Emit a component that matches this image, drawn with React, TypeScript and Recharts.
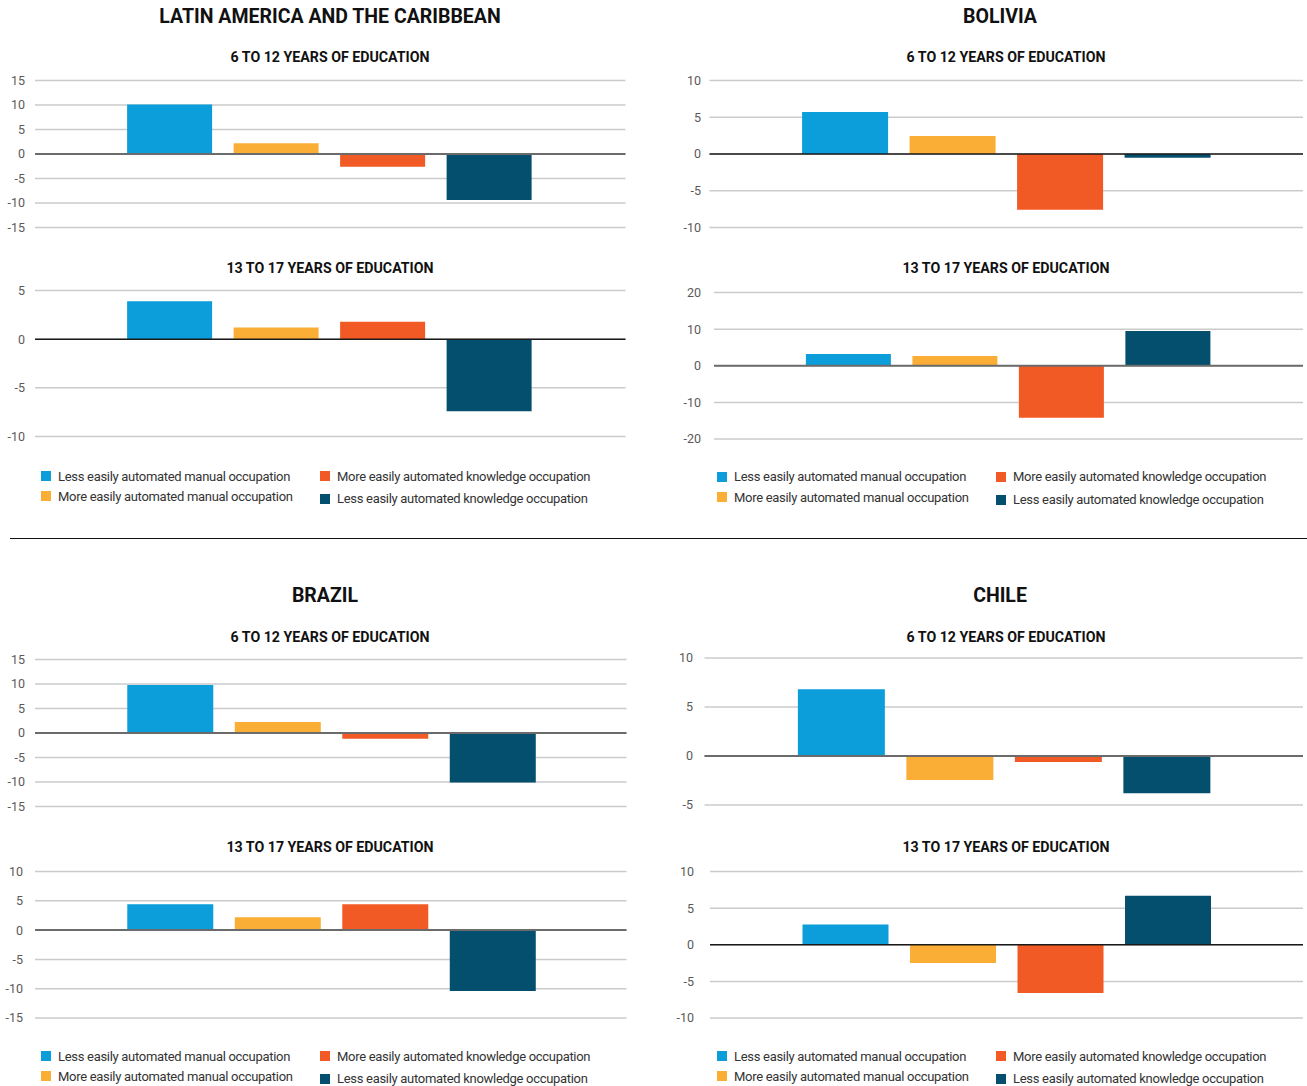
import React from "react";
import {
  BarChart,
  Bar,
  XAxis,
  YAxis,
  CartesianGrid,
  ReferenceLine,
} from "recharts";

// Occupation groups shown in every panel (bar order = legend order)
const SERIES_NAMES = [
  "Less easily automated manual occupation",
  "More easily automated manual occupation",
  "More easily automated knowledge occupation",
  "Less easily automated knowledge occupation",
];
const SERIES_COLORS = ["#0b9edb", "#faae35", "#f15a24", "#044f6d"];

// Change by occupation group, per region and education level
const LAC_6_12 = [10.1, 2.2, -2.6, -9.4];
const LAC_13_17 = [3.9, 1.2, 1.8, -7.4];
const BOLIVIA_6_12 = [5.7, 2.45, -7.6, -0.5];
const BOLIVIA_13_17 = [3.2, 2.65, -14.2, 9.5];
const BRAZIL_6_12 = [9.8, 2.25, -1.15, -10.1];
const BRAZIL_13_17 = [4.4, 2.2, 4.4, -10.4];
const CHILE_6_12 = [6.8, -2.45, -0.6, -3.8];
const CHILE_13_17 = [2.75, -2.5, -6.6, 6.7];

// Y axis ticks
const TICKS_15 = [-15, -10, -5, 0, 5, 10, 15];
const TICKS_10_5 = [-10, -5, 0, 5];
const TICKS_10 = [-10, -5, 0, 5, 10];
const TICKS_20 = [-20, -10, 0, 10, 20];
const TICKS_15_10 = [-15, -10, -5, 0, 5, 10];
const TICKS_5_10 = [-5, 0, 5, 10];

const REGION_TITLES = ["LATIN AMERICA AND THE CARIBBEAN", "BOLIVIA", "BRAZIL", "CHILE"];
const LEVEL_TITLES = ["6 TO 12 YEARS OF EDUCATION", "13 TO 17 YEARS OF EDUCATION"];

const FONT = 'Roboto, "Open Sans", "Noto Sans", sans-serif';

type PanelCfg = {
  values: number[];
  ticks: number[];
  plot: [number, number, number, number]; // left, right, top, bottom
  labelGap: number;
  zero: string;
  zeroWidth: number;
};

const PANELS: PanelCfg[] = [
  { values: LAC_6_12, ticks: TICKS_15, plot: [35, 625.5, 80.5, 227.5], labelGap: 10, zero: "#6b6b6b", zeroWidth: 2 },
  { values: LAC_13_17, ticks: TICKS_10_5, plot: [35, 625.5, 290.5, 436.5], labelGap: 10, zero: "#1a1a1a", zeroWidth: 1.5 },
  { values: BOLIVIA_6_12, ticks: TICKS_10, plot: [709.5, 1303, 80.5, 227.5], labelGap: 8.5, zero: "#1a1a1a", zeroWidth: 1.5 },
  { values: BOLIVIA_13_17, ticks: TICKS_20, plot: [714, 1303, 292.5, 439], labelGap: 13, zero: "#6b6b6b", zeroWidth: 2 },
  { values: BRAZIL_6_12, ticks: TICKS_15, plot: [35, 626.5, 659.5, 806.5], labelGap: 10, zero: "#6b6b6b", zeroWidth: 2 },
  { values: BRAZIL_13_17, ticks: TICKS_15_10, plot: [35, 626.5, 871.5, 1018], labelGap: 12, zero: "#6b6b6b", zeroWidth: 2 },
  { values: CHILE_6_12, ticks: TICKS_5_10, plot: [704.5, 1303, 658, 805], labelGap: 11.5, zero: "#6b6b6b", zeroWidth: 2 },
  { values: CHILE_13_17, ticks: TICKS_10, plot: [710, 1303, 871.5, 1018], labelGap: 16, zero: "#1a1a1a", zeroWidth: 1.5 },
];

function Panel({ cfg }: { cfg: PanelCfg }) {
  const yAxisW = 40;
  const [pl, pr, pt, pb] = cfg.plot;
  const divLeft = Math.floor(pl) - yAxisW;
  const divTop = Math.floor(pt) - 10;
  const mLeft = pl - yAxisW - divLeft;
  const mTop = pt - divTop;
  const width = Math.ceil(pr) + 2 - divLeft;
  const mRight = width - (pr - divLeft);
  const height = Math.ceil(pb) + 10 - divTop;
  const mBottom = height - (pb - divTop);
  const row: Record<string, number | string> = { name: "all" };
  cfg.values.forEach((v, i) => (row["s" + i] = v));
  const ticks = cfg.ticks;
  return (
    <div style={{ position: "absolute", left: divLeft, top: divTop }}>
      <BarChart
        width={width}
        height={height}
        data={[row]}
        margin={{ top: mTop, right: mRight, bottom: mBottom, left: mLeft }}
        barCategoryGap="15.6%"
        barGap={21.5}
      >
        <CartesianGrid vertical={false} stroke="#cbcbcb" strokeWidth={1.5} />
        <XAxis dataKey="name" hide />
        <YAxis
          type="number"
          width={yAxisW}
          domain={[ticks[0], ticks[ticks.length - 1]]}
          ticks={ticks}
          interval={0}
          allowDataOverflow
          axisLine={false}
          tickLine={false}
          tickMargin={cfg.labelGap - 6}
          tick={{ fontSize: 12.5, fill: "#5a5a5a", fontFamily: FONT }}
        />
        {SERIES_NAMES.map((n, i) => (
          <Bar key={n} dataKey={"s" + i} name={n} fill={SERIES_COLORS[i]} isAnimationActive={false} />
        ))}
        <ReferenceLine y={0} stroke={cfg.zero} strokeWidth={cfg.zeroWidth} />
      </BarChart>
    </div>
  );
}

function Title({ text, cx, cy, size, spacing = 0 }: { text: string; cx: number; cy: number; size: number; spacing?: number }) {
  return (
    <div
      style={{
        position: "absolute",
        left: cx - 300,
        width: 600,
        top: cy - size / 2,
        height: size,
        lineHeight: `${size}px`,
        textAlign: "center",
        fontFamily: FONT,
        fontWeight: 700,
        fontSize: size,
        letterSpacing: spacing,
        color: "#111",
        whiteSpace: "nowrap",
      }}
    >
      {text}
    </div>
  );
}

// Two-column legend: column 1 holds the manual groups, column 2 the knowledge groups
function Legend2({ x1, x2, y1, y2 }: { x1: number; x2: number; y1: number; y2: number }) {
  const pos = [
    [x1, y1],
    [x1, y2],
    [x2, y1],
    [x2, y2 + 2.5],
  ];
  return (
    <>
      {SERIES_NAMES.map((n, i) => (
        <div
          key={n}
          style={{
            position: "absolute",
            left: pos[i][0],
            top: pos[i][1] - 8,
            height: 16,
            display: "flex",
            alignItems: "center",
            whiteSpace: "nowrap",
            fontFamily: FONT,
            fontSize: 13,
            letterSpacing: -0.3,
            color: "#333",
          }}
        >
          <span style={{ width: 10, height: 10, background: SERIES_COLORS[i], marginRight: 7, display: "inline-block" }} />
          {n}
        </div>
      ))}
    </>
  );
}

export default function App() {
  return (
    <div
      style={{
        position: "absolute",
        left: 0,
        top: 0,
        width: 1307,
        height: 1086,
        background: "#fff",
        overflow: "hidden",
      }}
    >
      <Title text={REGION_TITLES[0]} cx={330} cy={17} size={19.5} />
      <Title text={REGION_TITLES[1]} cx={1000} cy={17} size={19.5} />
      <Title text={REGION_TITLES[2]} cx={325} cy={595.5} size={19.5} />
      <Title text={REGION_TITLES[3]} cx={1000} cy={595.5} size={19.5} />

      <Title text={LEVEL_TITLES[0]} cx={330} cy={57.5} size={14.2} />
      <Title text={LEVEL_TITLES[1]} cx={330} cy={268.5} size={14.2} />
      <Title text={LEVEL_TITLES[0]} cx={1006} cy={57.5} size={14.2} />
      <Title text={LEVEL_TITLES[1]} cx={1006} cy={268.5} size={14.2} />
      <Title text={LEVEL_TITLES[0]} cx={330} cy={637} size={14.2} />
      <Title text={LEVEL_TITLES[1]} cx={330} cy={847.5} size={14.2} />
      <Title text={LEVEL_TITLES[0]} cx={1006} cy={637} size={14.2} />
      <Title text={LEVEL_TITLES[1]} cx={1006} cy={847.5} size={14.2} />

      {PANELS.map((p, i) => (
        <Panel key={i} cfg={p} />
      ))}

      <Legend2 x1={41} x2={320} y1={476} y2={496} />
      <Legend2 x1={717} x2={996} y1={476.5} y2={497} />
      <Legend2 x1={41} x2={320} y1={1056} y2={1076} />
      <Legend2 x1={717} x2={996} y1={1056} y2={1076} />

      <div style={{ position: "absolute", left: 10, top: 538, width: 1297, height: 1, background: "#111" }} />
    </div>
  );
}
